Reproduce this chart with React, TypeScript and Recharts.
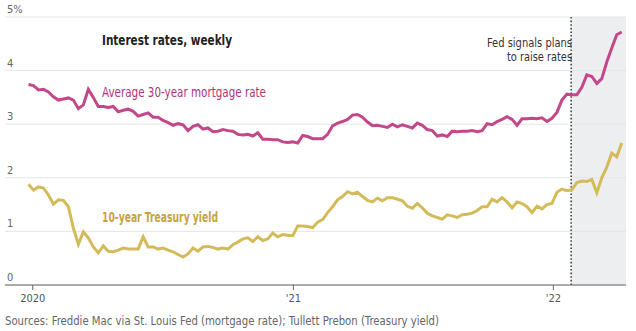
import React from 'react';
import {
  LineChart,
  Line,
  XAxis,
  YAxis,
  CartesianGrid,
  ReferenceArea,
  ReferenceLine,
} from 'recharts';

// Freddie Mac 30-year fixed, weekly, first week = Dec 26 2019
const mortgageRate = [
  3.74,
  3.72, 3.64, 3.65, 3.6, 3.51, 3.45, 3.47, 3.49, 3.45, 3.29, 3.36, 3.65, 3.5,
  3.33, 3.33, 3.31, 3.33, 3.23, 3.26, 3.28, 3.24, 3.15, 3.18, 3.21, 3.13, 3.13,
  3.07, 3.03, 2.98, 3.01, 2.99, 2.88, 2.96, 2.99, 2.91, 2.93, 2.86, 2.87, 2.9,
  2.88, 2.87, 2.81, 2.8, 2.81, 2.78, 2.84, 2.72, 2.72, 2.71, 2.71, 2.67, 2.66, 2.67,
  2.65, 2.79, 2.77, 2.73, 2.73, 2.73, 2.81, 2.97, 3.02, 3.05, 3.09, 3.17,
  3.18, 3.13, 3.04, 2.97, 2.98, 2.96, 2.94, 3.0, 2.95, 2.99, 2.96, 2.93, 3.02,
  2.98, 2.9, 2.88, 2.78, 2.8, 2.77, 2.87, 2.86, 2.87, 2.87, 2.88, 2.86, 2.88,
  3.01, 2.99, 3.05, 3.09, 3.14, 3.09, 2.98, 3.1, 3.1, 3.11, 3.1, 3.12, 3.05, 3.11,
  3.22, 3.45, 3.56, 3.55, 3.55, 3.69, 3.92, 3.89, 3.76, 3.85, 4.16, 4.42, 4.67, 4.72,
];

// 10-year Treasury yield, same weeks
const treasuryYield = [
  1.88,
  1.77, 1.83, 1.81, 1.68, 1.51, 1.59, 1.58, 1.46, 1.06, 0.76, 0.99, 0.88, 0.71,
  0.6, 0.73, 0.63, 0.62, 0.65, 0.69, 0.67, 0.67, 0.67, 0.9, 0.71, 0.71, 0.67,
  0.69, 0.65, 0.62, 0.57, 0.52, 0.58, 0.69, 0.63, 0.71, 0.72, 0.7, 0.67, 0.69,
  0.67, 0.75, 0.8, 0.86, 0.88, 0.81, 0.9, 0.83, 0.86, 0.97, 0.9, 0.94, 0.93, 0.92,
  1.1, 1.1, 1.09, 1.07, 1.17, 1.22, 1.35, 1.46, 1.59, 1.65, 1.74, 1.7,
  1.73, 1.65, 1.58, 1.55, 1.62, 1.57, 1.63, 1.63, 1.6, 1.57, 1.47, 1.43, 1.52,
  1.44, 1.34, 1.29, 1.26, 1.23, 1.31, 1.29, 1.26, 1.31, 1.32, 1.34, 1.39, 1.46,
  1.46, 1.6, 1.55, 1.63, 1.55, 1.44, 1.55, 1.52, 1.46, 1.35, 1.47, 1.42, 1.5, 1.52,
  1.73, 1.79, 1.76, 1.78, 1.91, 1.94, 1.93, 1.97, 1.72, 2.0, 2.2, 2.46, 2.39, 2.65,
];

const FIRST_WEEK = Date.UTC(2019, 11, 26);
const WEEK = 7 * 24 * 3600 * 1000;

const yearTicks = [Date.UTC(2020, 0, 1), Date.UTC(2021, 0, 1), Date.UTC(2022, 0, 1)];
const yearLabels = ['2020', "'21", "'22"];
const rateTicks = [0, 1, 2, 3, 4, 5];

const FED_SIGNAL = Date.UTC(2022, 0, 26);
const X_MIN = Date.UTC(2019, 10, 23);
const X_MAX = Date.UTC(2022, 3, 13);

const data = mortgageRate.map((m, i) => ({
  t: FIRST_WEEK + i * WEEK,
  mortgage: m,
  treasury: treasuryYield[i],
}));

const FONT = '"DejaVu Sans Condensed", Roboto, sans-serif';

const RateTick = (props: any) => {
  const { y, payload } = props;
  return (
    <text x={7} y={y - 4} fontSize={11} fill="#666" fontFamily={FONT}>
      {payload.value === 5 ? '5%' : payload.value}
    </text>
  );
};

export default function App() {
  return (
    <div style={{ position: 'absolute', left: 0, top: 0, width: 636, height: 331, background: '#fff' }}>
      <LineChart
        width={636}
        height={331}
        data={data}
        margin={{ top: 17, right: 10, left: 5, bottom: 16 }}
      >
        <CartesianGrid vertical={false} stroke="#e6e6e6" />
        <ReferenceArea x1={FED_SIGNAL} x2={X_MAX} y1={0} y2={5} fill="#dfe2e6" fillOpacity={0.6} />
        <XAxis
          dataKey="t"
          type="number"
          domain={[X_MIN, X_MAX]}
          ticks={yearTicks}
          tickFormatter={(v: number) => yearLabels[yearTicks.indexOf(v)]}
          height={30}
          stroke="#666"
          tickSize={5}
          tickMargin={4}
          tick={{ fontSize: 11, fill: '#555', fontFamily: FONT }}
          allowDataOverflow
        />
        <YAxis
          type="number"
          domain={[0, 5]}
          ticks={rateTicks}
          mirror
          interval={0}
          axisLine={false}
          tickLine={false}
          tick={<RateTick />}
        />
        <ReferenceLine x={FED_SIGNAL} stroke="#444" strokeWidth={1.6} strokeDasharray="1.6 2" />
        <Line
          type="linear"
          dataKey="treasury"
          stroke="#d4bb5a"
          strokeWidth={3}
          dot={false}
          isAnimationActive={false}
        />
        <Line
          type="linear"
          dataKey="mortgage"
          stroke="#c4478a"
          strokeWidth={3}
          dot={false}
          isAnimationActive={false}
        />
      </LineChart>
      <svg
        width={636}
        height={331}
        style={{ position: 'absolute', left: 0, top: 0, pointerEvents: 'none' }}
        fontFamily={FONT}
      >
        <text x={102} y={45} fontSize={14} fontWeight={700} fill="#222" textLength={130} lengthAdjust="spacingAndGlyphs">
          Interest rates, weekly
        </text>
        <text x={102} y={97} fontSize={14} fontWeight={500} fill="#ae3676" textLength={164} lengthAdjust="spacingAndGlyphs">
          Average 30-year mortgage rate
        </text>
        <text x={102} y={222} fontSize={14} fontWeight={700} fill="#c6a33c" textLength={116} lengthAdjust="spacingAndGlyphs">
          10-year Treasury yield
        </text>
        <text x={572} y={47} fontSize={12.5} fill="#333" textAnchor="end" textLength={85} lengthAdjust="spacingAndGlyphs">
          Fed signals plans
        </text>
        <text x={572} y={61} fontSize={12.5} fill="#333" textAnchor="end" textLength={65} lengthAdjust="spacingAndGlyphs">
          to raise rates
        </text>
        <text x={5} y={325} fontSize={12} fill="#666" textLength={434} lengthAdjust="spacingAndGlyphs">
          Sources: Freddie Mac via St. Louis Fed (mortgage rate); Tullett Prebon (Treasury yield)
        </text>
      </svg>
    </div>
  );
}
